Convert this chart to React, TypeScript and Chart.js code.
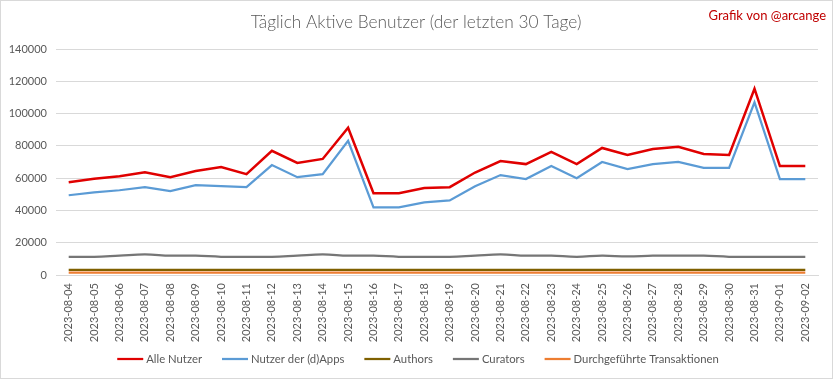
import React, { useEffect, useRef } from "react";
import { Chart, registerables } from "chart.js";

Chart.register(...registerables);

const dates = [
  "2023-08-04", "2023-08-05", "2023-08-06", "2023-08-07", "2023-08-08",
  "2023-08-09", "2023-08-10", "2023-08-11", "2023-08-12", "2023-08-13",
  "2023-08-14", "2023-08-15", "2023-08-16", "2023-08-17", "2023-08-18",
  "2023-08-19", "2023-08-20", "2023-08-21", "2023-08-22", "2023-08-23",
  "2023-08-24", "2023-08-25", "2023-08-26", "2023-08-27", "2023-08-28",
  "2023-08-29", "2023-08-30", "2023-08-31", "2023-09-01", "2023-09-02",
];

const alleNutzer = [
  57500, 59600, 61200, 63700, 60600, 64400, 66900, 62500, 76900, 69400,
  71900, 91200, 50600, 50600, 53900, 54400, 63500, 70600, 68700, 76200,
  68700, 78700, 74400, 78100, 79400, 75000, 74400, 115400, 67500, 67500,
];

const dappsNutzer = [
  49400, 51200, 52500, 54400, 51900, 55600, 55000, 54400, 68100, 60600,
  62500, 83100, 41900, 41900, 45000, 46200, 55000, 61900, 59400, 67500,
  60000, 70000, 65600, 68700, 70000, 66400, 66400, 106900, 59400, 59400,
];

const authors = [
  3100, 3100, 3100, 3100, 3100, 3100, 3100, 3100, 3100, 3100,
  3100, 3100, 3100, 3100, 3100, 3100, 3100, 3100, 3100, 3100,
  3100, 3100, 3100, 3100, 3100, 3100, 3100, 3100, 3100, 3100,
];

const curators = [
  11300, 11300, 12000, 12700, 12000, 12000, 11300, 11300, 11300, 12000,
  12700, 12000, 12000, 11300, 11300, 11300, 12000, 12700, 12000, 12000,
  11300, 12000, 11500, 12000, 12000, 12000, 11300, 11300, 11300, 11300,
];

const transaktionen = [
  1500, 1500, 1500, 1500, 1500, 1500, 1500, 1500, 1500, 1500,
  1500, 1500, 1500, 1500, 1500, 1500, 1500, 1500, 1500, 1500,
  1500, 1500, 1500, 1500, 1500, 1500, 1500, 1500, 1500, 1500,
];

const seriesNames = [
  "Alle Nutzer",
  "Nutzer der (d)Apps",
  "Authors",
  "Curators",
  "Durchgeführte Transaktionen",
];
const seriesColors = ["#E00000", "#5B9BD5", "#7F6000", "#767676", "#ED7D31"];

const yMin = 0;
const yMax = 140000;
const yStep = 20000;

const titleText = "Täglich Aktive Benutzer (der letzten 30 Tage)";
const creditText = "Grafik von @arcange";

const FONT = "Lato, 'Open Sans', sans-serif";
const TEXT_GRAY = "#595959";

const decorPlugin = {
  id: "decor",
  beforeDraw(chart: any) {
    const { ctx, width, height } = chart;
    ctx.save();
    ctx.fillStyle = "#ffffff";
    ctx.fillRect(0, 0, width, height);
    ctx.restore();
  },
  afterDraw(chart: any) {
    const { ctx, width, height } = chart;
    ctx.save();
    // border
    ctx.strokeStyle = "#D9D9D9";
    ctx.lineWidth = 1;
    ctx.strokeRect(0.5, 0.5, width - 1, height - 1);
    // title
    ctx.fillStyle = TEXT_GRAY;
    ctx.font = `300 17.3px ${FONT}`;
    ctx.textAlign = "center";
    ctx.textBaseline = "middle";
    ctx.fillText(titleText, 416, 22);
    // credit
    ctx.fillStyle = "#C00000";
    ctx.font = `13px ${FONT}`;
    ctx.textAlign = "right";
    ctx.fillText(creditText, 826, 16);
    // legend
    ctx.font = `11.3px ${FONT}`;
    ctx.textAlign = "left";
    const lineLen = 26;
    const gap = 3;
    const itemGap = 20;
    const widths = seriesNames.map((n) => ctx.measureText(n).width);
    const total =
      widths.reduce((a, w) => a + lineLen + gap + w, 0) +
      itemGap * (seriesNames.length - 1);
    let x = 418 - total / 2;
    const y = 359;
    chart.data.datasets.forEach((ds: any, i: number) => {
      ctx.strokeStyle = ds.borderColor;
      ctx.lineWidth = 2.25;
      ctx.beginPath();
      ctx.moveTo(x, y);
      ctx.lineTo(x + lineLen, y);
      ctx.stroke();
      ctx.fillStyle = TEXT_GRAY;
      ctx.fillText(ds.label, x + lineLen + gap, y);
      x += lineLen + gap + widths[i] + itemGap;
    });
    ctx.restore();
  },
};

export default function App() {
  const canvasRef = useRef<HTMLCanvasElement | null>(null);

  useEffect(() => {
    document.body.style.margin = "0";
    const canvas = canvasRef.current;
    if (!canvas) return;
    const seriesData = [alleNutzer, dappsNutzer, authors, curators, transaktionen];
    const chart = new Chart(canvas, {
      type: "line",
      data: {
        labels: dates,
        datasets: seriesData.map((d, i) => ({
          label: seriesNames[i],
          data: d,
          borderColor: seriesColors[i],
          backgroundColor: seriesColors[i],
          borderWidth: i === 0 ? 2.5 : 2.25,
          pointRadius: 0,
          pointHoverRadius: 0,
          tension: i === 3 ? 0.4 : 0,
          fill: false,
          order: 5 - i,
        })),
      },
      options: {
        responsive: false,
        animation: false,
        devicePixelRatio: 1,
        layout: { padding: { top: 49, left: 0, right: 15, bottom: 0 } },
        plugins: {
          legend: { display: false },
          title: { display: false },
          tooltip: { enabled: false },
        },
        scales: {
          x: {
            type: "category",
            offset: true,
            grid: { display: false, drawTicks: false },
            border: { display: true, color: "#D9D9D9", width: 1 },
            ticks: {
              autoSkip: false,
              maxRotation: 90,
              minRotation: 90,
              padding: 8,
              color: TEXT_GRAY,
              font: { family: FONT, size: 11 },
            },
            afterFit(scale: any) {
              scale.height = 104;
            },
          },
          y: {
            min: yMin,
            max: yMax,
            grid: { color: "#D9D9D9", lineWidth: 1, drawTicks: false },
            border: { display: false },
            ticks: {
              stepSize: yStep,
              padding: 9,
              color: TEXT_GRAY,
              font: { family: FONT, size: 11 },
              callback: (v: any) => String(v),
            },
            afterFit(scale: any) {
              scale.width = 56;
            },
          },
        },
      },
      plugins: [decorPlugin],
    });
    return () => chart.destroy();
  }, []);

  return (
    <div style={{ width: 833, height: 379 }}>
      <canvas ref={canvasRef} width={833} height={379} />
    </div>
  );
}
